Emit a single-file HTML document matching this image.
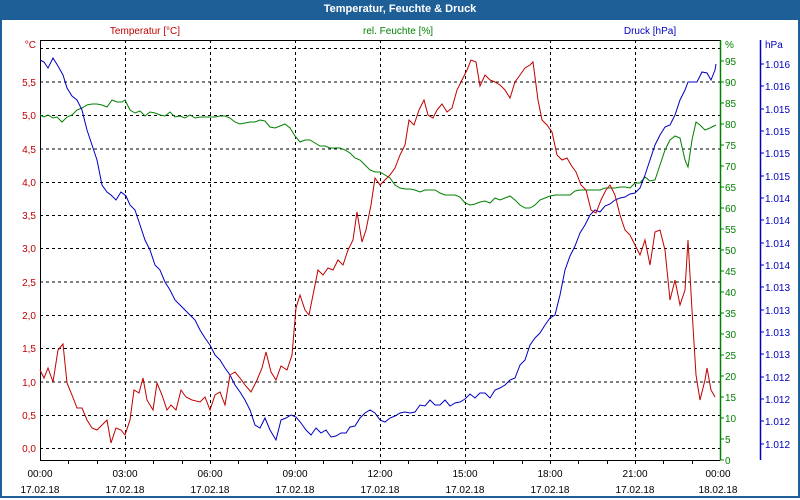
<!DOCTYPE html>
<html><head><meta charset="utf-8"><style>
body{margin:0;width:800px;height:500px;overflow:hidden;background:#fff;font-family:"Liberation Sans",sans-serif}
.frame{position:absolute;left:0;top:0;width:796px;height:496px;border:2px solid #1f5f97;border-top:none}
.title{position:absolute;left:0;top:0;width:800px;height:20px;background:#1f5f97;color:#fff;font-weight:bold;font-size:11px;text-align:center;line-height:19px}
</style></head><body>
<div class="frame"></div>
<div class="title">Temperatur, Feuchte &amp; Druck</div>
<svg width="800" height="500" style="position:absolute;left:0;top:0" font-family="Liberation Sans, sans-serif" font-size="10">
<g stroke="#000" stroke-dasharray="3,3" stroke-width="1">
<line x1="40" x2="720" y1="48.5" y2="48.5"/><line x1="40" x2="720" y1="82" y2="82"/><line x1="40" x2="720" y1="115.5" y2="115.5"/><line x1="40" x2="720" y1="149" y2="149"/><line x1="40" x2="720" y1="182.5" y2="182.5"/><line x1="40" x2="720" y1="215.5" y2="215.5"/><line x1="40" x2="720" y1="248.5" y2="248.5"/><line x1="40" x2="720" y1="282" y2="282"/><line x1="40" x2="720" y1="315.5" y2="315.5"/><line x1="40" x2="720" y1="348.5" y2="348.5"/><line x1="40" x2="720" y1="382" y2="382"/><line x1="40" x2="720" y1="415.5" y2="415.5"/><line x1="40" x2="720" y1="448.5" y2="448.5"/>
<line x1="125.5" x2="125.5" y1="40" y2="460"/><line x1="210.5" x2="210.5" y1="40" y2="460"/><line x1="295.5" x2="295.5" y1="40" y2="460"/><line x1="380.5" x2="380.5" y1="40" y2="460"/><line x1="465.5" x2="465.5" y1="40" y2="460"/><line x1="550.5" x2="550.5" y1="40" y2="460"/><line x1="635.5" x2="635.5" y1="40" y2="460"/>
</g>
<line x1="40" x2="720" y1="40.5" y2="40.5" stroke="#000"/>
<line x1="40.5" x2="40.5" y1="40" y2="460" stroke="#000"/>
<line x1="40" x2="720" y1="460.5" y2="460.5" stroke="#000"/>
<g stroke="#000"><line x1="68.5" x2="68.5" y1="460" y2="464"/><line x1="97.5" x2="97.5" y1="460" y2="464"/><line x1="125.5" x2="125.5" y1="460" y2="464"/><line x1="153.5" x2="153.5" y1="460" y2="464"/><line x1="182.5" x2="182.5" y1="460" y2="464"/><line x1="210.5" x2="210.5" y1="460" y2="464"/><line x1="238.5" x2="238.5" y1="460" y2="464"/><line x1="267.5" x2="267.5" y1="460" y2="464"/><line x1="295.5" x2="295.5" y1="460" y2="464"/><line x1="323.5" x2="323.5" y1="460" y2="464"/><line x1="352.5" x2="352.5" y1="460" y2="464"/><line x1="380.5" x2="380.5" y1="460" y2="464"/><line x1="408.5" x2="408.5" y1="460" y2="464"/><line x1="437.5" x2="437.5" y1="460" y2="464"/><line x1="465.5" x2="465.5" y1="460" y2="464"/><line x1="493.5" x2="493.5" y1="460" y2="464"/><line x1="522.5" x2="522.5" y1="460" y2="464"/><line x1="550.5" x2="550.5" y1="460" y2="464"/><line x1="578.5" x2="578.5" y1="460" y2="464"/><line x1="607.5" x2="607.5" y1="460" y2="464"/><line x1="635.5" x2="635.5" y1="460" y2="464"/><line x1="663.5" x2="663.5" y1="460" y2="464"/><line x1="692.5" x2="692.5" y1="460" y2="464"/></g>
<line x1="720.5" x2="720.5" y1="40" y2="460" stroke="#008000" stroke-width="1.5"/>
<line x1="760.5" x2="760.5" y1="40" y2="460" stroke="#0000c0" stroke-width="1.5"/>
<g fill="#c00000" font-size="10" text-anchor="end">
<text x="36" y="48">°C</text><text x="36" y="86">5,5</text><text x="36" y="119">5,0</text><text x="36" y="153">4,5</text><text x="36" y="186">4,0</text><text x="36" y="219">3,5</text><text x="36" y="252">3,0</text><text x="36" y="286">2,5</text><text x="36" y="319">2,0</text><text x="36" y="352">1,5</text><text x="36" y="386">1,0</text><text x="36" y="419">0,5</text><text x="36" y="452">0,0</text>
</g>
<g fill="#008000" font-size="10">
<text x="725" y="48">%</text><text x="725" y="65">95</text><text x="725" y="86">90</text><text x="725" y="107">85</text><text x="725" y="128">80</text><text x="725" y="149">75</text><text x="725" y="170">70</text><text x="725" y="191">65</text><text x="725" y="212">60</text><text x="725" y="233">55</text><text x="725" y="254">50</text><text x="725" y="275">45</text><text x="725" y="296">40</text><text x="725" y="317">35</text><text x="725" y="338">30</text><text x="725" y="359">25</text><text x="725" y="380">20</text><text x="725" y="401">15</text><text x="725" y="422">10</text><text x="725" y="443">5</text><text x="725" y="464">0</text>
</g>
<g stroke="#008000"><line x1="720" x2="724" y1="61" y2="61"/><line x1="720" x2="724" y1="82" y2="82"/><line x1="720" x2="724" y1="103" y2="103"/><line x1="720" x2="724" y1="124" y2="124"/><line x1="720" x2="724" y1="145" y2="145"/><line x1="720" x2="724" y1="166" y2="166"/><line x1="720" x2="724" y1="187" y2="187"/><line x1="720" x2="724" y1="208" y2="208"/><line x1="720" x2="724" y1="229" y2="229"/><line x1="720" x2="724" y1="250" y2="250"/><line x1="720" x2="724" y1="271" y2="271"/><line x1="720" x2="724" y1="292" y2="292"/><line x1="720" x2="724" y1="313" y2="313"/><line x1="720" x2="724" y1="334" y2="334"/><line x1="720" x2="724" y1="355" y2="355"/><line x1="720" x2="724" y1="376" y2="376"/><line x1="720" x2="724" y1="397" y2="397"/><line x1="720" x2="724" y1="418" y2="418"/><line x1="720" x2="724" y1="439" y2="439"/><line x1="720" x2="724" y1="460" y2="460"/></g>
<g fill="#0000c0" font-size="10">
<text x="765" y="48">hPa</text>
<text x="765" y="68">1.016</text><text x="765" y="90">1.016</text><text x="765" y="113">1.015</text><text x="765" y="135">1.015</text><text x="765" y="157">1.015</text><text x="765" y="180">1.015</text><text x="765" y="202">1.014</text><text x="765" y="224">1.014</text><text x="765" y="247">1.014</text><text x="765" y="269">1.014</text><text x="765" y="291">1.013</text><text x="765" y="314">1.013</text><text x="765" y="336">1.013</text><text x="765" y="358">1.013</text><text x="765" y="381">1.012</text><text x="765" y="403">1.012</text><text x="765" y="425">1.012</text><text x="765" y="448">1.012</text>
</g>
<g stroke="#0000c0"><line x1="760" x2="764" y1="64" y2="64"/><line x1="760" x2="764" y1="86" y2="86"/><line x1="760" x2="764" y1="109" y2="109"/><line x1="760" x2="764" y1="131" y2="131"/><line x1="760" x2="764" y1="153" y2="153"/><line x1="760" x2="764" y1="176" y2="176"/><line x1="760" x2="764" y1="198" y2="198"/><line x1="760" x2="764" y1="220" y2="220"/><line x1="760" x2="764" y1="243" y2="243"/><line x1="760" x2="764" y1="265" y2="265"/><line x1="760" x2="764" y1="287" y2="287"/><line x1="760" x2="764" y1="310" y2="310"/><line x1="760" x2="764" y1="332" y2="332"/><line x1="760" x2="764" y1="354" y2="354"/><line x1="760" x2="764" y1="377" y2="377"/><line x1="760" x2="764" y1="399" y2="399"/><line x1="760" x2="764" y1="421" y2="421"/><line x1="760" x2="764" y1="444" y2="444"/></g>
<text x="145" y="34" fill="#c00000" text-anchor="middle">Temperatur [°C]</text>
<text x="398" y="34" fill="#008000" text-anchor="middle">rel. Feuchte [%]</text>
<text x="650" y="34" fill="#0000c0" text-anchor="middle">Druck [hPa]</text>
<g fill="#000" font-size="10" text-anchor="middle">
<text x="40" y="477">00:00</text><text x="40" y="493">17.02.18</text>
<text x="125" y="477">03:00</text><text x="125" y="493">17.02.18</text>
<text x="210" y="477">06:00</text><text x="210" y="493">17.02.18</text>
<text x="295" y="477">09:00</text><text x="295" y="493">17.02.18</text>
<text x="380" y="477">12:00</text><text x="380" y="493">17.02.18</text>
<text x="465" y="477">15:00</text><text x="465" y="493">17.02.18</text>
<text x="550" y="477">18:00</text><text x="550" y="493">17.02.18</text>
<text x="635" y="477">21:00</text><text x="635" y="493">17.02.18</text>
<text x="718" y="477">00:00</text><text x="718" y="493">18.02.18</text>
</g>
<polyline fill="none" stroke="#008000" stroke-width="1" points="40,115 44,117 48,115 53,118 57,117 62,122 67,117 72,115 77,110 82,108 87,105 92,104 97,104 102,105 107,107 112,100 117,102 122,102 125,100 130,110 135,113 140,111 145,116 150,112 155,113 160,115 165,116 170,112 175,117 180,116 185,118 190,115 195,118 200,117 205,117 210,117 215,117 220,116 225,116 230,118 235,122 240,124 245,123 250,122 255,122 260,120 265,121 270,127 275,128 280,126 285,124 290,128 295,136 300,142 305,140 310,140 315,143 320,146 325,146 330,148 335,148 340,148 345,150 350,153 355,158 360,160 365,165 370,170 375,172 380,172 385,175 390,178 395,185 400,188 405,189 410,189 415,190 420,192 425,190 430,190 435,190 440,193 445,195 450,195 455,195 460,197 465,203 470,205 475,204 480,202 485,201 490,203 495,198 500,200 505,198 510,196 515,200 520,205 525,208 530,208 535,205 540,200 545,198 550,196 555,195 560,195 565,195 570,195 575,191 580,190 585,190 590,190 595,190 600,190 605,188 610,188 615,188 620,187 625,187 630,188 635,183 640,183 645,177 650,181 655,180 660,165 665,150 670,140 675,136 680,138 685,160 688,167 692,140 696,122 700,125 705,130 710,128 716,125"/>
<polyline fill="none" stroke="#0000c0" stroke-width="1" points="40,60 44,62 48,68 53,58 58,66 63,75 67,88 72,96 77,100 82,110 87,130 92,145 97,160 102,185 107,192 111,195 116,200 121,192 126,196 130,205 135,210 140,225 145,240 150,250 155,265 160,270 165,282 170,290 175,300 180,305 185,310 190,315 195,320 200,330 205,338 210,345 215,355 220,360 225,368 230,375 235,385 240,392 245,400 250,410 255,425 260,428 265,418 270,430 276,440 281,420 286,418 291,415 296,417 301,423 306,430 311,435 316,428 321,433 326,430 331,437 336,436 341,433 346,433 350,427 355,426 360,418 365,413 370,410 375,413 380,420 385,422 390,418 395,416 400,413 405,412 410,413 415,412 420,405 425,406 430,400 435,405 440,405 445,400 450,406 455,403 460,402 465,399 470,394 475,398 480,393 485,393 490,398 495,390 500,388 505,385 510,380 515,378 520,365 525,360 530,345 535,338 540,333 545,325 550,318 555,315 560,295 565,270 570,256 575,246 580,233 585,225 590,215 595,210 600,212 605,206 610,204 615,200 620,198 625,197 630,194 635,193 640,188 645,175 650,160 655,145 660,135 665,127 670,125 675,115 680,100 685,90 688,82 693,82 697,82 702,72 707,73 711,80 715,70 716,64"/>
<polyline fill="none" stroke="#c00000" stroke-width="1" points="40,370 44,378 48,368 53,382 58,350 63,344 67,383 72,395 77,408 82,408 87,420 92,428 97,430 102,425 107,420 111,443 116,428 121,430 125,435 130,420 134,390 139,393 143,378 147,400 153,410 157,383 162,395 167,410 171,405 176,410 181,390 186,397 192,400 200,402 205,397 210,410 215,395 220,392 225,405 230,375 235,372 240,378 245,385 251,392 257,380 262,368 266,352 271,372 276,380 281,366 287,370 292,355 296,308 300,295 305,310 309,315 314,290 318,270 323,275 328,268 333,270 338,260 343,265 348,250 353,240 357,212 362,242 366,230 371,205 375,178 380,185 385,180 390,175 395,168 400,155 405,145 409,120 414,125 419,110 424,100 428,115 433,118 437,110 442,104 447,112 452,108 457,90 462,80 467,70 471,60 476,62 480,86 485,75 490,80 495,82 500,85 505,90 510,98 515,82 520,75 525,68 530,65 533,62 538,100 542,120 547,125 552,132 557,155 562,160 567,158 571,165 576,172 581,185 586,190 591,210 596,213 601,200 606,190 610,185 615,195 620,215 625,230 630,235 635,245 640,255 645,240 650,265 655,232 660,230 665,250 670,300 675,280 680,305 685,290 688,240 692,310 696,375 700,400 705,380 707,368 711,390 715,397"/>
</svg>
</body></html>
